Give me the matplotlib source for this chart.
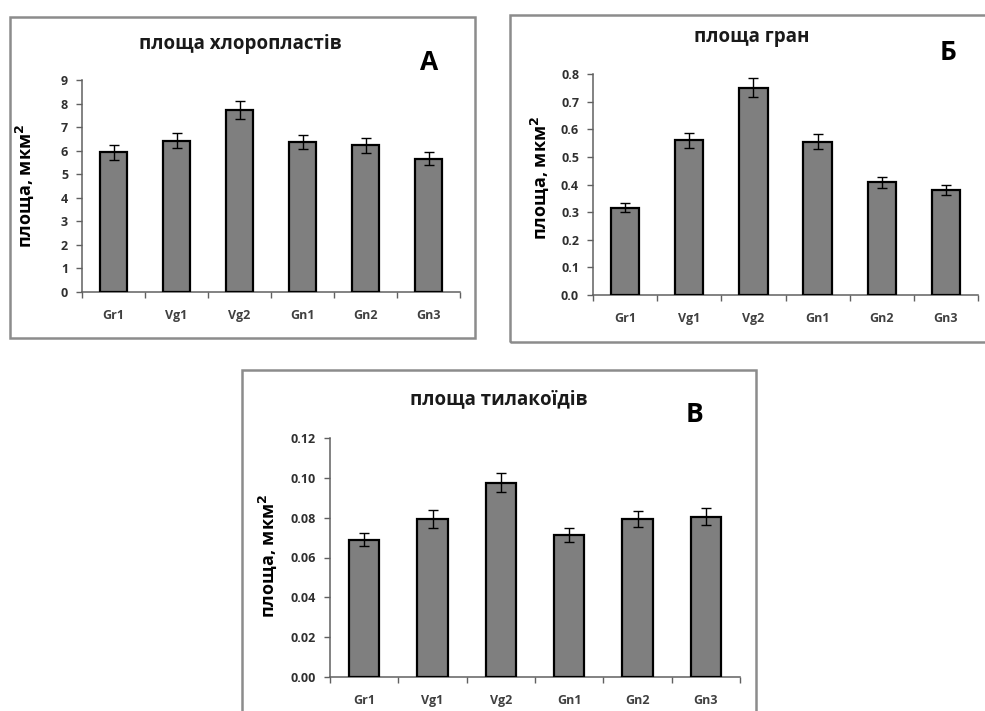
import matplotlib
matplotlib.use("Agg")
import matplotlib.pyplot as plt
from matplotlib.patches import Rectangle
from matplotlib.ticker import FormatStrFormatter, MultipleLocator

plt.rcParams['font.family'] = ['Open Sans', 'DejaVu Sans']
plt.rcParams['mathtext.fontset'] = 'dejavusans'

categories = ["Gr1", "Vg1", "Vg2", "Gn1", "Gn2", "Gn3"]

chloro_vals = [5.93, 6.42, 7.73, 6.37, 6.23, 5.66]
chloro_err = [0.32, 0.32, 0.37, 0.31, 0.31, 0.28]

grana_vals = [0.316, 0.560, 0.750, 0.555, 0.408, 0.379]
grana_err = [0.016, 0.028, 0.034, 0.028, 0.020, 0.018]

thyl_vals = [0.0690, 0.0793, 0.0975, 0.0713, 0.0793, 0.0805]
thyl_err = [0.0034, 0.0045, 0.0048, 0.0035, 0.0040, 0.0042]

W, H = 985, 711
fig = plt.figure(figsize=(W / 100, H / 100), dpi=100)
fig.patch.set_facecolor('white')


def px_rect(x0, y0, x1, y1):
    return [x0 / W, 1 - y1 / H, (x1 - x0) / W, (y1 - y0) / H]


# panel frames
for (x0, y0, x1, y1) in [(10, 17, 475, 338), (510, 15, 995, 342), (242, 370, 756, 720)]:
    fig.add_artist(Rectangle((x0 / W, 1 - y1 / H), (x1 - x0) / W, (y1 - y0) / H,
                             transform=fig.transFigure, fill=False,
                             edgecolor='#8c8c8c', linewidth=1.8, clip_on=False))


def panel(rect, vals, errs, ymax, step, fmt, title, title_xy, letter, letter_xy, ylab_xy):
    ax = fig.add_axes(px_rect(*rect))
    xs = list(range(len(categories)))
    ax.bar(xs, vals, width=0.44, color='#7f7f7f', edgecolor='black', linewidth=1.6,
           yerr=errs, capsize=3.5, error_kw=dict(elinewidth=1.0, capthick=1.0, ecolor='black'),
           zorder=3)
    ax.set_xlim(-0.5, len(categories) - 0.5)
    ax.set_ylim(0, ymax)
    ax.yaxis.set_major_locator(MultipleLocator(step))
    ax.yaxis.set_major_formatter(FormatStrFormatter(fmt))
    ax.set_xticks(xs)
    ax.set_xticklabels(categories)
    ax.set_xticks([i - 0.5 for i in range(len(categories) + 1)], minor=True)
    ax.tick_params(axis='x', which='major', length=0, pad=12, labelsize=9,
                   labelcolor='#404040')
    ax.tick_params(axis='x', which='minor', length=4, width=1, color='#606060', direction='out')
    ax.tick_params(axis='y', length=4, width=1, color='#606060', direction='out',
                   labelsize=9, labelcolor='#303030', pad=6)
    for lbl in ax.get_xticklabels() + ax.get_yticklabels():
        lbl.set_fontweight('bold')
    for s in ['top', 'right']:
        ax.spines[s].set_visible(False)
    for s in ['left', 'bottom']:
        ax.spines[s].set_color('#606060')
        ax.spines[s].set_linewidth(1.1)
    fig.text(title_xy[0] / W, 1 - title_xy[1] / H, title, ha='center', va='center',
             fontsize=13.5, fontweight='bold', color='#1a1a1a')
    fig.text(letter_xy[0] / W, 1 - letter_xy[1] / H, letter, ha='center', va='center',
             fontsize=19, fontweight='bold', color='black')
    fig.text(ylab_xy[0] / W, 1 - ylab_xy[1] / H, r"площа, мкм$^{\mathbf{2}}$", ha='center',
             va='center', rotation=90, fontsize=13, fontweight='bold', color='black')
    return ax


panel((82, 80, 460, 292), chloro_vals, chloro_err, 9, 1, '%d',
      "площа хлоропластів", (240, 44), "А", (429, 62), (25, 186))
panel((593, 74, 978, 295), grana_vals, grana_err, 0.8, 0.1, '%.1f',
      "площа гран", (752, 37), "Б", (948, 52), (540, 178))
panel((330, 438, 740, 677), thyl_vals, thyl_err, 0.12, 0.02, '%.2f',
      "площа тилакоїдів", (499, 399), "В", (695, 414), (268, 556))

fig.savefig("out.png", dpi=100)
